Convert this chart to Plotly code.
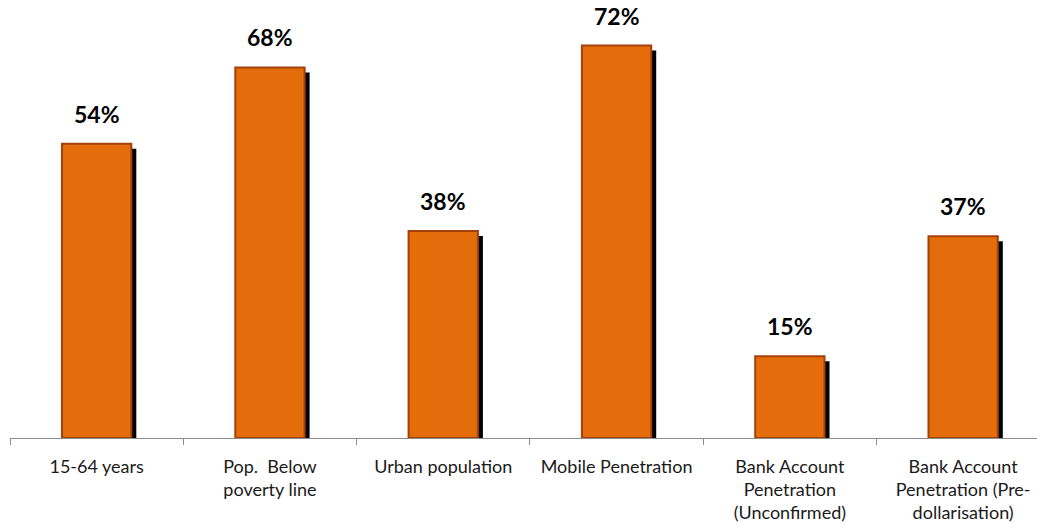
import plotly.graph_objects as go

categories = ["15-64 years", "Pop.  Below<br>poverty line", "Urban population",
              "Mobile Penetration", "Bank Account<br>Penetration<br>(Unconfirmed)",
              "Bank Account<br>Penetration (Pre-<br>dollarisation)"]
values = [54, 68, 38, 72, 15, 37]
labels = [f"{v}%" for v in values]

FONT = "Lato, Open Sans, sans-serif"
px_per_unit = 5.45
bar_w = 0.4
shadow_dx = 5 / 173.3
shadow_dy = 5 / px_per_unit

fig = go.Figure()
fig.add_trace(go.Bar(
    x=categories, y=[v - shadow_dy for v in values],
    width=bar_w, offset=-bar_w / 2 + shadow_dx,
    marker=dict(color="black", line=dict(width=0)),
    hoverinfo="skip", showlegend=False))
fig.add_trace(go.Bar(
    x=categories, y=values,
    width=bar_w, offset=-bar_w / 2,
    marker=dict(color="#E46C0A", line=dict(color="#A2410B", width=2)),
    showlegend=False))

for c, v, t in zip(categories, values, labels):
    fig.add_annotation(x=c, y=v, text=f"<b>{t}</b>", showarrow=False,
                       yanchor="bottom", yshift=14,
                       font=dict(family=FONT, size=23, color="black"))

fig.update_layout(
    width=1037, height=531,
    margin=dict(l=10, r=0, t=0, b=93, autoexpand=False),
    barmode="overlay",
    plot_bgcolor="white", paper_bgcolor="white",
    font=dict(family=FONT, size=18, color="#1a1a1a"),
    xaxis=dict(type="category", range=[-0.5, -0.5 + 1027 / 173.3],
               automargin=False,
               showline=True, linecolor="#8c8c8c", linewidth=1,
               ticks="outside", tickson="boundaries", ticklen=6,
               tickcolor="#8c8c8c", showgrid=False, zeroline=False,
               ticklabelstandoff=12,
               tickfont=dict(family=FONT, size=18, color="#1a1a1a")),
    yaxis=dict(range=[0, 438 / px_per_unit], visible=False, showgrid=False,
               zeroline=False, automargin=False),
)

fig.write_html("out.html", config={"displayModeBar": False},
               post_script="document.body.style.margin='0';document.body.style.padding='0';")
